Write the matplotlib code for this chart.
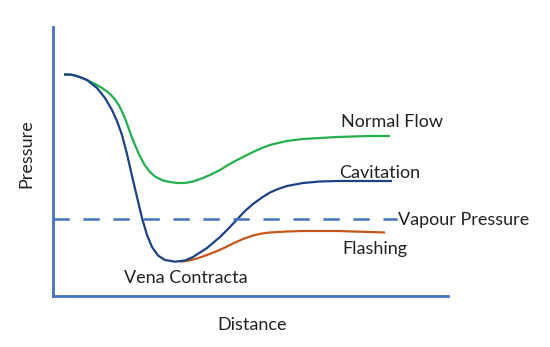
import matplotlib.pyplot as plt

plt.rcParams['font.family'] = ['Lato', 'DejaVu Sans']

# curvas (distancia, presion en unidades arbitrarias)
dist_normal = [11, 17, 22, 28, 34, 39, 44, 49, 54, 58, 62, 66, 69, 72, 75, 78,
               82, 87, 92, 97, 102, 110, 117, 124, 132, 140, 150, 158, 167,
               175, 184, 192, 200, 209, 217, 225, 234, 242, 250, 267, 284,
               317, 337]
pres_normal = [221.5, 221.5, 220.5, 218.5, 216, 213.5, 211, 208, 204.5, 201,
               196.5, 190.5, 184.5, 177.5, 169.5, 161, 151, 139.5, 130.5, 124,
               119.5, 115.5, 114, 113, 113, 114.5, 118, 121.5, 126, 131, 136,
               140, 144, 148, 151, 153, 155, 156, 157, 158, 159, 160, 160]

dist_cavit = [11, 17, 22, 28, 34, 44, 52, 59, 64, 69, 74, 79, 84, 89, 94, 99,
              105, 112, 122, 132, 140, 154, 167, 175, 184, 192, 200, 209, 217,
              225, 234, 242, 250, 267, 284, 317, 339]
pres_cavit = [221.5, 221.5, 220.5, 218.5, 216, 208, 198, 186, 175, 161, 142,
              120, 99, 78, 61, 49, 40.5, 36, 34.3, 35.5, 39, 48, 59, 67, 76.5,
              85, 92, 98.5, 103.5, 107, 110, 111.5, 113, 114.5, 115, 115, 115]

dist_flash = [127, 135, 144, 154, 163, 172, 181, 190, 200, 209, 217, 234, 250,
              284, 317, 332]
pres_flash = [34.3, 35.3, 37.5, 41, 44.5, 48.5, 53, 57, 60.5, 62.5, 63.5, 64.5,
              65, 65, 64, 63.5]

vapour = 77
vapour_end = 344

txt_color = '#222222'
spine_color = '#4472c4'

fig = plt.figure(figsize=(5.5, 3.47), dpi=100)
ax = fig.add_axes([53/550, 51/347, 395/550, 269/347])

ax.plot(dist_normal, pres_normal, color='#22b04b', lw=1.6,
        solid_capstyle='butt', solid_joinstyle='round')
ax.plot(dist_flash, pres_flash, color='#c8561a', lw=1.6,
        solid_capstyle='butt', solid_joinstyle='round')
ax.plot(dist_cavit, pres_cavit, color='#1d4284', lw=1.6,
        solid_capstyle='butt', solid_joinstyle='round')
ax.plot([0, vapour_end], [vapour, vapour], color=spine_color, lw=1.8,
        dashes=(6.5, 5.5))

ax.set_xlim(0, 395)
ax.set_ylim(0, 269)

for s in ['top', 'right']:
    ax.spines[s].set_visible(False)
for s in ['left', 'bottom']:
    ax.spines[s].set_color(spine_color)
    ax.spines[s].set_linewidth(2)
ax.set_xticks([])
ax.set_yticks([])

fs = 13
ax.text(288, 169, 'Normal Flow', fontsize=fs, color=txt_color)
ax.text(286, 118, 'Cavitation', fontsize=fs, color=txt_color)
ax.text(345, 71, 'Vapour Pressure', fontsize=fs, color=txt_color,
        clip_on=False)
ax.text(289, 42, 'Flashing', fontsize=fs, color=txt_color)
ax.text(71, 13, 'Vena Contracta', fontsize=fs, color=txt_color)

fig.text(26/550, 1 - 154/347, 'Pressure', rotation=90, fontsize=fs,
         color=txt_color, ha='center', va='center')
fig.text(252/550, 1 - 325/347, 'Distance', fontsize=fs, color=txt_color,
         ha='center', va='center')

fig.savefig('out.png', dpi=100)
